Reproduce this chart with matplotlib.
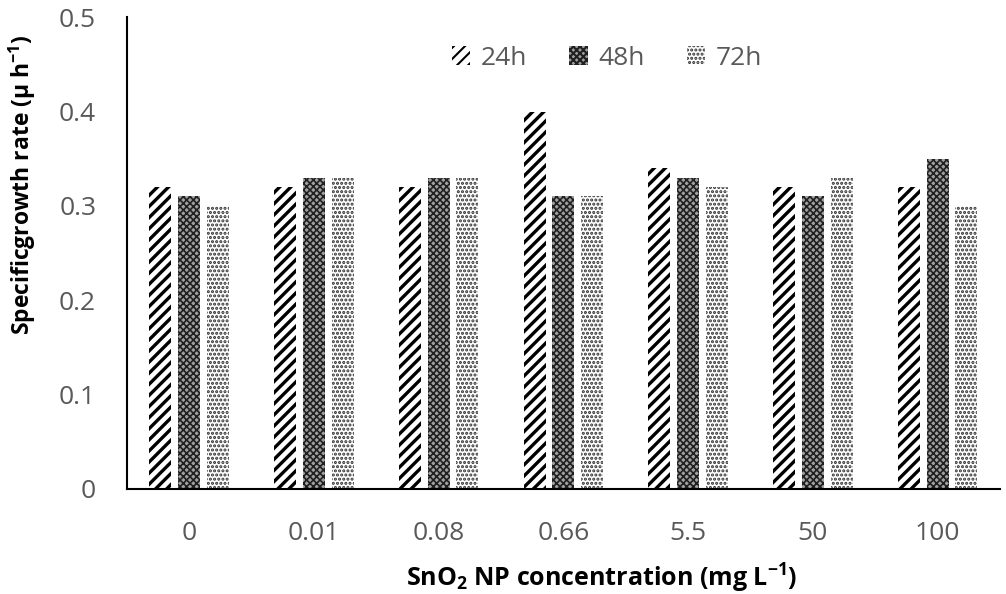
import matplotlib
matplotlib.use("Agg")
import matplotlib.pyplot as plt
import numpy as np

# data
concentrations = ["0", "0.01", "0.08", "0.66", "5.5", "50", "100"]
rate_24h = [0.32, 0.32, 0.32, 0.40, 0.34, 0.32, 0.32]
rate_48h = [0.31, 0.33, 0.33, 0.31, 0.33, 0.31, 0.35]
rate_72h = [0.30, 0.33, 0.33, 0.31, 0.32, 0.33, 0.30]
series_names = ["24h", "48h", "72h"]

plt.rcParams['font.family'] = ['Open Sans', 'DejaVu Sans']
plt.rcParams['mathtext.default'] = 'regular'
plt.rcParams['hatch.linewidth'] = 2.4

fig = plt.figure(figsize=(10.06, 5.94), dpi=100)
ax = fig.add_axes([0.126, 0.177, 0.868, 0.794])

x = np.arange(len(concentrations))
w = 0.176
step = 0.23

plt.rcParams['hatch.color'] = 'black'
b1 = ax.bar(x - step, rate_24h, w, color='white', edgecolor='black',
            linewidth=0, hatch='///', label=series_names[0])

# finer hatches for the other two
plt.rcParams['hatch.linewidth'] = 1.2
b2 = ax.bar(x, rate_48h, w, color='#a0a0a0', edgecolor='#202020',
            linewidth=0, hatch='xxxxx', label=series_names[1])
plt.rcParams['hatch.linewidth'] = 1.5
b3 = ax.bar(x + step, rate_72h, w, color='white', edgecolor='#303030',
            linewidth=0, hatch='....', label=series_names[2])

ax.set_xlim(-0.5, len(concentrations) - 0.5)
ax.set_ylim(0, 0.5)
ax.set_yticks([0, 0.1, 0.2, 0.3, 0.4, 0.5])
ax.set_yticklabels(["0", "0.1", "0.2", "0.3", "0.4", "0.5"])
ax.set_xticks(x)
ax.set_xticklabels(concentrations)
ax.tick_params(axis='both', length=0, labelsize=19, colors='#595959')
ax.tick_params(axis='y', pad=22)
ax.tick_params(axis='x', pad=23)

for s in ['top', 'right']:
    ax.spines[s].set_visible(False)
for s in ['left', 'bottom']:
    ax.spines[s].set_linewidth(1.5)
    ax.spines[s].set_color('black')

ax.set_ylabel("Specificgrowth rate (\u00b5 h$^{-1}$)", fontsize=16.5,
              fontweight='bold')
ax.set_xlabel("SnO$_2$ NP concentration (mg L$^{-1}$)", fontsize=18,
              fontweight='bold')
# the labels sit off-centre in the original
ax.xaxis.set_label_coords(0.544, -0.155)
ax.yaxis.set_label_coords(-0.102, 0.644)

ax.legend(loc='upper center', bbox_to_anchor=(0.55, 0.99), ncol=3, frameon=False,
          fontsize=19, labelcolor='#595959', handlelength=0.7, handleheight=0.7,
          columnspacing=1.6, handletextpad=0.4)

fig.savefig("out.png", dpi=100)
